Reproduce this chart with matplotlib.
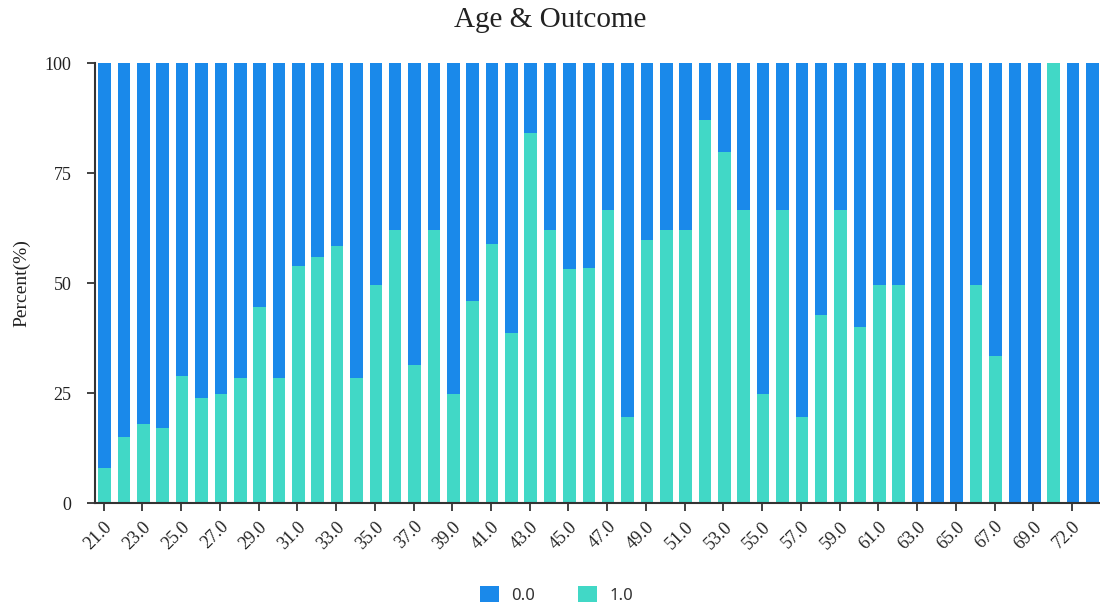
import matplotlib
matplotlib.use("Agg")
import matplotlib.pyplot as plt
from matplotlib.patches import Patch
import numpy as np

# Age categories and share (%) of outcome 1.0 in each
ages = [21.0, 22.0, 23.0, 24.0, 25.0, 26.0, 27.0, 28.0, 29.0, 30.0,
        31.0, 32.0, 33.0, 34.0, 35.0, 36.0, 37.0, 38.0, 39.0, 40.0,
        41.0, 42.0, 43.0, 44.0, 45.0, 46.0, 47.0, 48.0, 49.0, 50.0,
        51.0, 52.0, 53.0, 54.0, 55.0, 56.0, 57.0, 58.0, 59.0, 60.0,
        61.0, 62.0, 63.0, 64.0, 65.0, 66.0, 67.0, 68.0, 69.0, 70.0,
        72.0, 81.0]
pct_one = [7.9, 15.1, 18.0, 17.1, 28.8, 23.9, 24.8, 28.4, 44.6, 28.4,
           53.8, 56.0, 58.3, 28.4, 49.6, 62.1, 31.3, 62.1, 24.7, 46.0,
           58.9, 38.7, 84.2, 62.1, 53.1, 53.3, 66.5, 19.6, 59.7, 62.1,
           62.1, 87.1, 79.7, 66.5, 24.8, 66.5, 19.6, 42.7, 66.5, 39.9,
           49.6, 49.6, 0.0, 0.0, 0.0, 49.6, 33.3, 0.0, 0.0, 100.0,
           0.0, 0.0]
pct_zero = [100 - v for v in pct_one]
series_names = ["0.0", "1.0"]

BLUE = "#1a89ea"
TEAL = "#41d8c6"
AXIS = "#333333"
SERIF = ["Liberation Serif", "DejaVu Serif"]

plt.rcParams["font.family"] = SERIF

fig = plt.figure(figsize=(11, 6.1), dpi=100)
ax = fig.add_axes([95 / 1100, 107 / 610, 1007 / 1100, 440 / 610])

x = np.arange(len(ages))
ax.bar(x, pct_one, width=0.65, color=TEAL, zorder=2)
ax.bar(x, pct_zero, width=0.65, bottom=pct_one, color=BLUE, zorder=2)

ax.set_xlim(-0.5, len(ages) - 0.5)
ax.set_ylim(0, 100)
ax.set_yticks([0, 25, 50, 75, 100])
ax.set_yticklabels(["0", "25", "50", "75", "100"], family=SERIF)
ax.set_xticks(x[::2] - 0.05)
ax.set_xticklabels([f"{a:.1f}" for a in ages[::2]], rotation=45,
                   ha="right", rotation_mode="anchor", family=SERIF)

for side in ["top", "right"]:
    ax.spines[side].set_visible(False)
for side in ["left", "bottom"]:
    ax.spines[side].set_color(AXIS)
    ax.spines[side].set_linewidth(1.5)
ax.tick_params(axis="both", colors=AXIS, labelcolor="#222222",
               labelsize=13, length=6, width=1.3)
ax.tick_params(axis="y", pad=11)
ax.tick_params(axis="x", pad=5)

ax.set_ylabel("Percent(%)", fontsize=14, color="#222222", labelpad=10)
fig.text(0.5, 0.967, "Age & Outcome", ha="center", va="center",
         fontsize=21, color="#222222")

handles = [Patch(facecolor=BLUE), Patch(facecolor=TEAL)]
leg = fig.legend(handles, series_names, loc="center",
                 bbox_to_anchor=(0.506, 0.025), ncol=2, frameon=False,
                 fontsize=12, handlelength=1.15, handleheight=1.15,
                 columnspacing=2.6, handletextpad=0.7)
for t in leg.get_texts():
    t.set_color("#333333")
    t.set_fontfamily(["Noto Sans", "DejaVu Sans"])

fig.savefig("out.png", dpi=100)
